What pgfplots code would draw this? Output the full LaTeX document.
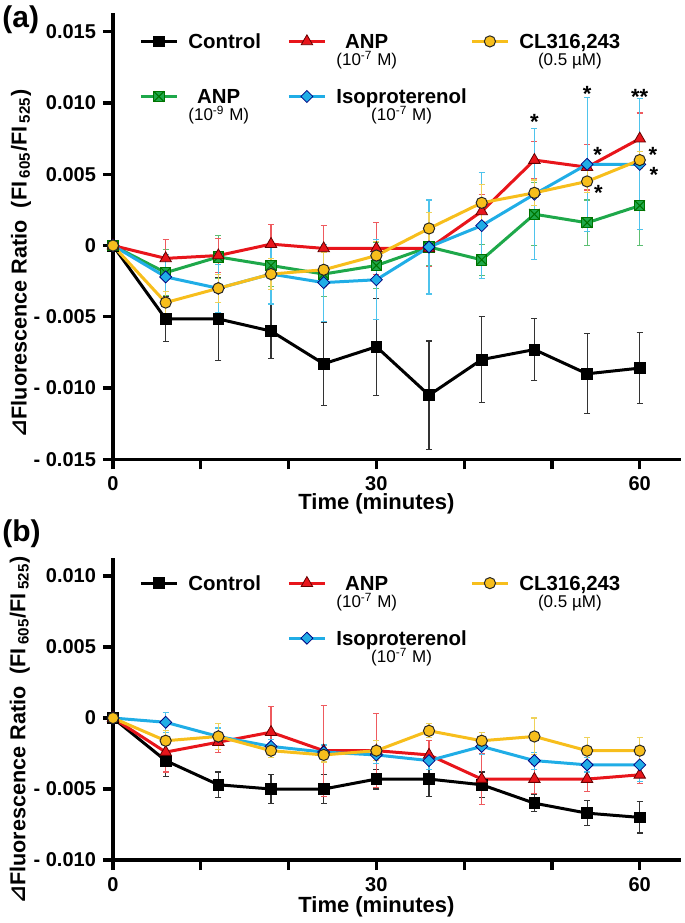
\documentclass[border=0pt]{standalone}
\usepackage{fontspec}
\setmainfont{Liberation Sans}
\newfontfamily\dejavu{DejaVu Sans}
\usepackage{pgfplots}
\usepackage{pgfplotstable}
\pgfplotsset{compat=1.18}

\definecolor{cred}{HTML}{E8151B}
\definecolor{cyel}{HTML}{F7BE1C}
\definecolor{cgrn}{HTML}{1EA84A}
\definecolor{cblu}{HTML}{20ADE6}
\definecolor{ered}{HTML}{EE5A5E}
\definecolor{eyel}{HTML}{EFD25A}
\definecolor{egrn}{HTML}{5CBF72}
\definecolor{eblu}{HTML}{4EC3EC}

\pgfdeclareplotmark{xsquare}{%
  \pgfpathrectangle{\pgfqpoint{-\pgfplotmarksize}{-\pgfplotmarksize}}{\pgfqpoint{2\pgfplotmarksize}{2\pgfplotmarksize}}%
  \pgfusepathqfillstroke
  \pgfpathmoveto{\pgfqpoint{-\pgfplotmarksize}{-\pgfplotmarksize}}\pgfpathlineto{\pgfqpoint{\pgfplotmarksize}{\pgfplotmarksize}}%
  \pgfpathmoveto{\pgfqpoint{-\pgfplotmarksize}{\pgfplotmarksize}}\pgfpathlineto{\pgfqpoint{\pgfplotmarksize}{-\pgfplotmarksize}}%
  \pgfusepathqstroke}
\pgfdeclareplotmark{mydiamond}{%
  \pgfpathmoveto{\pgfqpoint{0pt}{\pgfplotmarksize}}%
  \pgfpathlineto{\pgfqpoint{\pgfplotmarksize}{0pt}}%
  \pgfpathlineto{\pgfqpoint{0pt}{-\pgfplotmarksize}}%
  \pgfpathlineto{\pgfqpoint{-\pgfplotmarksize}{0pt}}%
  \pgfpathclose\pgfusepathqfillstroke}

\newcommand{\legtwo}[2]{\begin{tabular}[t]{@{}c@{}}#1\\[-3.8pt]{\mdseries\fontsize{8.5}{10}\selectfont #2}\end{tabular}}

\pgfplotsset{
  ctrl/.style={black, line width=1.5pt, mark=square*, mark size=2.7pt, mark options={solid, fill=black, line width=0.4pt}},
  anp7/.style={cred, line width=1.5pt, mark=triangle*, mark size=3.3pt, mark options={solid, fill=cred, draw=black!60!red, line width=0.4pt}},
  cl/.style={cyel, line width=1.5pt, mark=*, mark size=2.8pt, mark options={solid, fill=cyel, draw=black!85, line width=0.5pt}},
  anp9/.style={cgrn, line width=1.5pt, mark=xsquare, mark size=2.6pt, mark options={solid, fill=cgrn, draw=black!55!green, line width=0.5pt}},
  iso/.style={cblu, line width=1.5pt, mark=mydiamond, mark size=3pt, mark options={solid, fill=cblu, draw=black!50!blue, line width=0.4pt}},
  myaxis/.style={
    scale only axis, width=284pt,
    axis lines=left, axis line style={line width=1.6pt, -},
    xmin=0, xmax=64.7,
    xtick={0,10,20,30,40,50,60}, xticklabels={0,,,30,,,60},
    tick align=outside, major tick length=5pt,
    tick style={line width=1.6pt, black},
    ticklabel style={font=\fontsize{10}{12}\selectfont\bfseries},
    scaled y ticks=false,
    clip=false,
    xlabel={Time (minutes)},
    ylabel={{\dejavu\bfseries ⊿}Fluorescence Ratio\ \ (FI\,\textsubscript{605}/FI\,\textsubscript{525})},
    ylabel style={font=\fontsize{10.8}{13}\selectfont\bfseries, anchor=center},
    legend columns=3,
    legend image code/.code={\draw[mark repeat=2,mark phase=2,##1] plot coordinates {(0pt,3.6pt) (9pt,3.6pt) (18pt,3.6pt)};},
    legend style={draw=none, fill=none, anchor=north west, inner sep=0pt,
      font=\fontsize{10.2}{12.2}\selectfont\bfseries,
      cells={anchor=base west},
      row sep=13.5pt,
      /tikz/every odd column/.style={column sep=3pt},
      /tikz/every even column/.style={column sep=0pt}},
  },
  ebk/.style={error bars/y dir=both, error bars/y explicit,
    error bars/error bar style={line width=0.55pt, #1},
    error bars/error mark options={rotate=90, line width=0.55pt, mark size=1.5pt, #1}},
}

% ---------- panel (a) ----------
\pgfplotstableread{
t v e
0 0 0
6 -0.00515 0.0016
12 -0.00515 0.0029
18 -0.0060 0.0019
24 -0.0083 0.0029
30 -0.0071 0.0034
36 -0.0105 0.0038
42 -0.0080 0.0030
48 -0.0073 0.0022
54 -0.0090 0.0028
60 -0.0086 0.0025
}\actrl
\pgfplotstableread{
t v e
0 0 0
6 -0.0009 0.0013
12 -0.0007 0.0012
18 0.0001 0.0014
24 -0.0002 0.0016
30 -0.0002 0.0018
36 -0.0002 0.0013
42 0.0024 0.0012
48 0.0060 0.0013
54 0.0055 0.0016
60 0.0075 0.0018
}\aanpseven
\pgfplotstableread{
t v e
0 0 0
6 -0.0040 0.0008
12 -0.0030 0.0010
18 -0.0020 0.0011
24 -0.0017 0.0012
30 -0.0007 0.0010
36 0.0012 0.0011
42 0.0030 0.0013
48 0.0037 0.0009
54 0.0045 0.0008
60 0.0060 0.0006
}\acl
\pgfplotstableread{
t v e
0 0 0
6 -0.0019 0.0016
12 -0.0008 0.0015
18 -0.0014 0.0015
24 -0.0020 0.0016
30 -0.0014 0.0016
36 -0.0001 0.0013
42 -0.0010 0.0011
48 0.0022 0.0022
54 0.0016 0.0016
60 0.0028 0.0028
}\aanpnine
\pgfplotstableread{
t v e
0 0 0
6 -0.0022 0.0016
12 -0.0030 0.0017
18 -0.0020 0.0021
24 -0.0026 0.0027
30 -0.0024 0.0028
36 -0.0001 0.0033
42 0.0014 0.0037
48 0.0036 0.0046
54 0.0057 0.0047
60 0.0057 0.0046
}\aiso

% ---------- panel (b) ----------
\pgfplotstableread{
t v e
0 0 0
6 -0.0030 0.0011
12 -0.0047 0.0009
18 -0.0050 0.0010
24 -0.0050 0.0010
30 -0.0043 0.0007
36 -0.0043 0.0012
42 -0.0047 0.0009
48 -0.0060 0.0006
54 -0.0067 0.0009
60 -0.0070 0.0011
}\bctrl
\pgfplotstableread{
t v e
0 0 0
6 -0.0024 0.0014
12 -0.0017 0.0007
18 -0.0010 0.0018
24 -0.0023 0.0032
30 -0.0023 0.0026
36 -0.0026 0.0010
42 -0.0043 0.0018
48 -0.0043 0.0010
54 -0.0043 0.0009
60 -0.0040 0.0006
}\banp
\pgfplotstableread{
t v e
0 0 0
6 -0.0016 0.0007
12 -0.0013 0.0009
18 -0.0023 0.0005
24 -0.0026 0.0005
30 -0.0023 0.0007
36 -0.0009 0.0005
42 -0.0016 0.0006
48 -0.0013 0.0013
54 -0.0023 0.0009
60 -0.0023 0.0009
}\bcl
\pgfplotstableread{
t v e
0 0 0
6 -0.0003 0.0007
12 -0.0013 0.0006
18 -0.0020 0.0005
24 -0.0024 0.0005
30 -0.0026 0.0006
36 -0.0030 0.0006
42 -0.0020 0.0006
48 -0.0030 0.0006
54 -0.0033 0.0005
60 -0.0033 0.0012
}\biso

\begin{document}
\begin{tikzpicture}
\path[use as bounding box] (0,0) rectangle (342.5pt,461.5pt);
\node[anchor=west, font=\fontsize{15}{18}\selectfont\bfseries, inner sep=0pt] at (1pt,451.5pt) {(a)};
\node[anchor=west, font=\fontsize{15}{18}\selectfont\bfseries, inner sep=0pt] at (1pt,194.5pt) {(b)};

\begin{axis}[myaxis, at={(56.5pt,231.85pt)}, anchor=south west, height=223pt,
  ymin=-0.015, ymax=0.0163,
  ytick={-0.015,-0.01,-0.005,0,0.005,0.01,0.015},
  yticklabels={- 0.015,- 0.010,- 0.005,0,0.005,0.010,0.015},
  xlabel style={font=\fontsize{11}{13}\selectfont\bfseries, at={(axis description cs:0.4637,0)}, anchor=center, yshift=-22.5pt},
  ylabel style={at={(axis description cs:-0.162,0.439)}},
  legend style={at={(axis description cs:0.0458,0.969)}},
]
\addplot[ctrl, forget plot, ebk=black!80] table[x=t, y=v, y error=e] {\actrl};
\addplot[anp9, forget plot, ebk=egrn] table[x=t, y=v, y error=e] {\aanpnine};
\addplot[anp7, forget plot, ebk=ered] table[x=t, y=v, y error=e] {\aanpseven};
\addplot[iso, forget plot, ebk=eblu] table[x=t, y=v, y error=e] {\aiso};
\addplot[cl, forget plot, ebk=eyel] table[x=t, y=v, y error=e] {\acl};
\addlegendimage{ctrl}\addlegendentry{\makebox[47.5pt][l]{Control}}
\addlegendimage{anp7}\addlegendentry{\makebox[65pt][l]{\legtwo{ANP}{(10\textsuperscript{-7} M)}}}
\addlegendimage{cl}\addlegendentry{\legtwo{CL316,243}{(0.5 µM)}}
\addlegendimage{anp9}\addlegendentry{\makebox[47.5pt][l]{\legtwo{ANP}{(10\textsuperscript{-9} M)}}}
\addlegendimage{iso}\addlegendentry{\makebox[65pt][l]{\legtwo{Isoproterenol}{(10\textsuperscript{-7} M)}}}
\begin{scope}[every node/.style={font=\fontsize{11}{13}\selectfont\bfseries, inner sep=0pt, yshift=-2.4pt}]
\node at (axis cs:48,0.0090) {*};
\node at (axis cs:54,0.0110) {*};
\node at (axis cs:60,0.0108) {**};
\node at (axis cs:55.2,0.0067) {*};
\node at (axis cs:55.3,0.0040) {*};
\node at (axis cs:61.5,0.0067) {*};
\node at (axis cs:61.6,0.0053) {*};
\end{scope}
\end{axis}

\begin{axis}[myaxis, at={(56.5pt,31.5pt)}, anchor=south west, height=150.85pt,
  ymin=-0.010, ymax=0.01125,
  ytick={-0.01,-0.005,0,0.005,0.01},
  yticklabels={- 0.010,- 0.005,0,0.005,0.010},
  xlabel style={font=\fontsize{11}{13}\selectfont\bfseries, at={(axis description cs:0.4637,0)}, anchor=center, yshift=-23.5pt},
  ylabel style={at={(axis description cs:-0.164,0.431)}},
  legend style={at={(axis description cs:0.0458,0.965)}},
]
\addplot[ctrl, forget plot, ebk=black!80] table[x=t, y=v, y error=e] {\bctrl};
\addplot[anp7, forget plot, ebk=ered] table[x=t, y=v, y error=e] {\banp};
\addplot[iso, forget plot, ebk=eblu] table[x=t, y=v, y error=e] {\biso};
\addplot[cl, forget plot, ebk=eyel] table[x=t, y=v, y error=e] {\bcl};
\addlegendimage{ctrl}\addlegendentry{\makebox[47.5pt][l]{Control}}
\addlegendimage{anp7}\addlegendentry{\makebox[65pt][l]{\legtwo{ANP}{(10\textsuperscript{-7} M)}}}
\addlegendimage{cl}\addlegendentry{\legtwo{CL316,243}{(0.5 µM)}}
\addlegendimage{empty legend}\addlegendentry{\makebox[47.5pt][l]{}}
\addlegendimage{iso}\addlegendentry{\makebox[65pt][l]{\legtwo{Isoproterenol}{(10\textsuperscript{-7} M)}}}
\end{axis}
\end{tikzpicture}
\end{document}
